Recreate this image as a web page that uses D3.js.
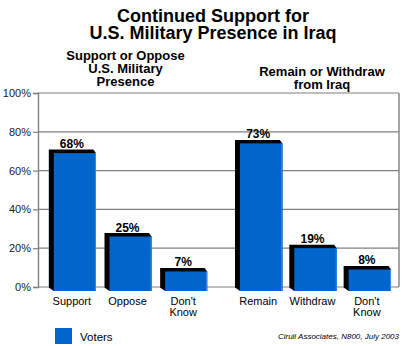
<!DOCTYPE html>
<html>
<head>
<meta charset="utf-8">
<script src="https://cdn.jsdelivr.net/npm/d3@7"></script>
<style>
  html, body { margin: 0; padding: 0; background: #fff; }
  svg { display: block; font-family: "Liberation Sans", Arial, sans-serif; }
</style>
</head>
<body>
<svg id="chart" width="402" height="346"></svg>
<script>
// ---- data ----
const titleLines = ["Continued Support for", "U.S. Military Presence in Iraq"];
const groupTitles = [["Support or Oppose", "U.S. Military", "Presence"], ["Remain or Withdraw", "from Iraq"]];
const categoriesA = ["Support", "Oppose", "Don't Know"];
const valuesA = [68, 25, 7];
const categoriesB = ["Remain", "Withdraw", "Don't Know"];
const valuesB = [73, 19, 8];
const yTicks = [0, 20, 40, 60, 80, 100];
const seriesName = "Voters";
const sourceNote = "Ciruli Associates, N800, July 2003";

// ---- layout ----
const svg = d3.select("#chart");
const plotLeft = 38, plotRight = 399, plotTop = 93, plotBottom = 287;
const blue = "#0066cc", gridColor = "#808080";

const y = d3.scaleLinear().domain([0, 100]).range([plotBottom, plotTop]);
const xA = d3.scaleBand().domain(categoriesA).range([47, 214]).paddingInner(0.245).paddingOuter(0.1225);
const xB = d3.scaleBand().domain(categoriesB).range([234, 397]).paddingInner(0.22).paddingOuter(0.11);

function multiline(sel, lines, x, firstBaseline, lineHeight) {
  const t = sel.append("text").attr("x", x).attr("y", firstBaseline);
  t.selectAll("tspan").data(lines).join("tspan")
    .attr("x", x).attr("dy", (d, i) => i === 0 ? 0 : lineHeight).text(d => d);
  return t;
}

// title
multiline(svg, titleLines, 213, 22, 16.5)
  .attr("text-anchor", "middle").attr("font-size", 18).attr("font-weight", "bold").attr("fill", "#000");

// group titles
const groupCenters = [125.5, 322];
const groupLastBaselines = [86, 88.5];
groupTitles.forEach((lines, gi) => {
  multiline(svg, lines, groupCenters[gi], groupLastBaselines[gi] - (lines.length - 1) * 13, 13)
    .attr("text-anchor", "middle").attr("font-size", 13).attr("font-weight", "bold").attr("fill", "#000");
});

// gridlines
svg.append("g").selectAll("line").data(yTicks).join("line")
  .attr("x1", plotLeft).attr("x2", plotRight)
  .attr("y1", d => y(d)).attr("y2", d => y(d))
  .attr("stroke", gridColor).attr("stroke-width", 1.2);

// y axis
const yAxis = d3.axisLeft(y).tickValues(yTicks).tickFormat(d => d + "%").tickSize(5).tickPadding(2);
const gy = svg.append("g").attr("transform", `translate(${plotLeft},0)`).call(yAxis);
gy.select(".domain").attr("stroke", gridColor).attr("stroke-width", 1.4);
gy.selectAll(".tick line").attr("stroke", gridColor).attr("stroke-width", 1.2);
gy.selectAll(".tick text").attr("font-size", 11).attr("fill", "#222")
  .attr("font-family", "'Liberation Sans', Arial, sans-serif");

// right frame
svg.append("line").attr("x1", plotRight).attr("x2", plotRight)
  .attr("y1", y(100)).attr("y2", y(0))
  .attr("stroke", gridColor).attr("stroke-width", 1.4);

// bars
const dx = 5, dy = 3.5;
function drawBars(cats, vals, xs) {
  const g = svg.append("g");
  const data = cats.map((c, i) => ({ c, v: vals[i] }));
  data.forEach(d => {
    const x0 = xs(d.c), x1 = x0 + xs.bandwidth();
    const y0 = y(d.v) - 2, yb = y(0) + 4;
    const pts = [[x0 - dx, y0 - dy], [x1 - dx / 2, y0 - dy], [x1, y0], [x1, yb], [x0, yb], [x0 - dx, yb - dy]];
    g.append("polygon").attr("points", pts.map(p => p.join(",")).join(" ")).attr("fill", "#000");
    g.append("rect").attr("x", x0).attr("y", y0).attr("width", x1 - x0).attr("height", yb - y0).attr("fill", blue);
    g.append("line").attr("x1", x1 - 0.5).attr("x2", x1 - 0.5).attr("y1", y0).attr("y2", yb)
      .attr("stroke", "#3d8fe6").attr("stroke-width", 1);
    g.append("text").attr("x", (x0 + x1) / 2 - 3).attr("y", y0 - dy - 1.5)
      .attr("text-anchor", "middle").attr("font-size", 12).attr("font-weight", "bold")
      .attr("fill", "#000").text(d.v + "%");
    multiline(g, d.c.split(" "), (x0 + x1) / 2 - 3, 305, 11)
      .attr("text-anchor", "middle").attr("font-size", 11).attr("fill", "#000");
  });
}
drawBars(categoriesA, valuesA, xA);
drawBars(categoriesB, valuesB, xB);

// legend
svg.append("rect").attr("x", 55).attr("y", 328).attr("width", 17).attr("height", 16).attr("fill", blue);
svg.append("text").attr("x", 80).attr("y", 340.5).attr("font-size", 11.5).attr("fill", "#000").text(seriesName);

// source
svg.append("text").attr("x", 399).attr("y", 339).attr("text-anchor", "end")
  .attr("font-size", 8).attr("font-style", "italic").attr("fill", "#000").text(sourceNote);
</script>
</body>
</html>
